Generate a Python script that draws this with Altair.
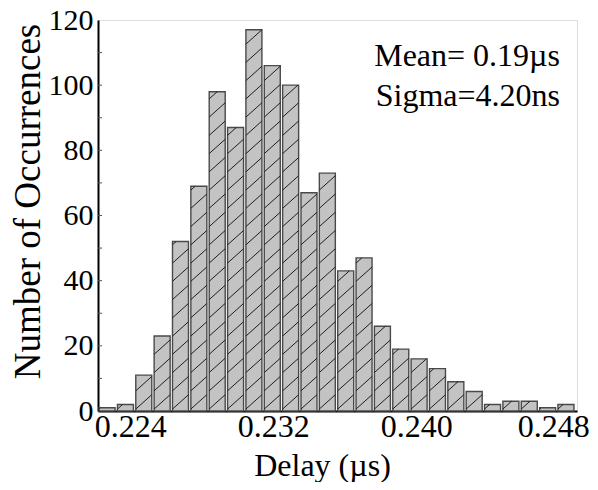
import altair as alt
import pandas as pd

# ---- data ----
bin_left = [0.22226, 0.223287, 0.224314, 0.225341, 0.226368, 0.227395, 0.228422,
            0.229449, 0.230476, 0.231503, 0.23253, 0.233557, 0.234584, 0.235611,
            0.236638, 0.237665, 0.238692, 0.239719, 0.240746, 0.241773, 0.2428,
            0.243827, 0.244854, 0.245881, 0.246908, 0.247935]
counts = [1, 2, 11, 23, 52, 69, 98, 87, 117, 106, 100, 67, 73, 43, 47, 26,
          19, 16, 13, 9, 6, 2, 3, 3, 1, 2]
bar_width = 0.000895
x_ticks = [0.224, 0.232, 0.240, 0.248]
y_ticks = [0, 20, 40, 60, 80, 100, 120]
y_minor = [10, 20, 30, 40, 50, 60, 70, 80, 90, 100, 110]
mean_text = "Mean= 0.19\u00b5s"
sigma_text = "Sigma=4.20ns"

FONT = "Liberation Serif"
XDOM = [0.2222, 0.2490]
YDOM = [0, 120]

bars = pd.DataFrame({
    "left": bin_left,
    "right": [b + bar_width for b in bin_left],
    "count": counts,
})

# hatch segments ("/") inside each bar
HATCH_STEP = 5.6
HATCH_RISE = 4.4
segs = []
for l, r, h in zip(bars["left"], bars["right"], bars["count"]):
    y0 = 0.6
    while y0 < h:
        y1 = y0 + HATCH_RISE
        if y1 <= h:
            x1 = r
        else:
            x1 = l + (r - l) * (h - y0) / HATCH_RISE
            y1 = h
        segs.append({"x": l, "x2": x1, "y": y0, "y2": y1})
        y0 += HATCH_STEP
hatch = pd.DataFrame(segs)

xs = alt.Scale(domain=XDOM, nice=False, zero=False)
ys = alt.Scale(domain=YDOM, nice=False, zero=True)

x_axis = alt.Axis(values=x_ticks, format=".3f", grid=False, ticks=False, tickSize=0,
                  labelFont=FONT, labelFontSize=32, labelColor="black",
                  labelPadding=0, labelFlush=False, labelOverlap=False,
                  labelOffset={"condition": {"test": "datum.value > 0.247", "value": -6}, "value": 0},
                  domainColor="black", domainWidth=2,
                  title="Delay (\u00b5s)", titleFont=FONT, titleFontSize=32,
                  titleFontWeight="normal", titleColor="black",
                  titleX=224, titleY=64, titleBaseline="alphabetic", titleAlign="center")
y_axis = alt.Axis(values=y_ticks, grid=False, ticks=False, tickSize=0,
                  labelFont=FONT, labelFontSize=30, labelColor="black",
                  labelPadding=5, labelFlush=False, labelOverlap=False,
                  domainColor="black", domainWidth=2,
                  title="Number of Occurrences", titleFont=FONT, titleFontSize=37,
                  titleFontWeight="normal", titleColor="black",
                  titleX=-70, titleY=181, titleBaseline="middle", titleAlign="center",
                  titleAngle=270)

bar_layer = alt.Chart(bars).mark_bar(
    color="#c3c3c3", stroke="#4a4a4a", strokeWidth=1.4
).encode(
    x=alt.X("left:Q", scale=xs, axis=x_axis),
    x2="right:Q",
    y=alt.Y("count:Q", scale=ys, axis=y_axis),
    y2=alt.datum(0),
)

hatch_layer = alt.Chart(hatch).mark_rule(color="#1e1e1e", strokeWidth=1).encode(
    x=alt.X("x:Q", scale=xs), x2="x2:Q",
    y=alt.Y("y:Q", scale=ys), y2="y2:Q",
)

minor_layer = alt.Chart(pd.DataFrame({"v": y_minor})).mark_rule(
    color="#555555", strokeWidth=1
).encode(
    x=alt.value(0), x2=alt.value(4),
    y=alt.Y("v:Q", scale=ys),
)

def label(txt, ypix):
    return alt.Chart(pd.DataFrame({"t": [txt]})).mark_text(
        font=FONT, fontSize=32, align="right", baseline="alphabetic", color="black"
    ).encode(x=alt.value(462), y=alt.value(ypix), text="t:N")

chart = alt.layer(
    bar_layer, hatch_layer, minor_layer, label(mean_text, 46), label(sigma_text, 86)
).properties(
    width=479, height=391,
    autosize=alt.AutoSizeParams(type="none"),
    padding={"left": 90, "top": 12, "right": 13, "bottom": 71},
).configure_view(stroke="black", strokeWidth=1.5).configure(background="white")

chart.save("out.html", embed_options={"renderer": "svg", "actions": False})
